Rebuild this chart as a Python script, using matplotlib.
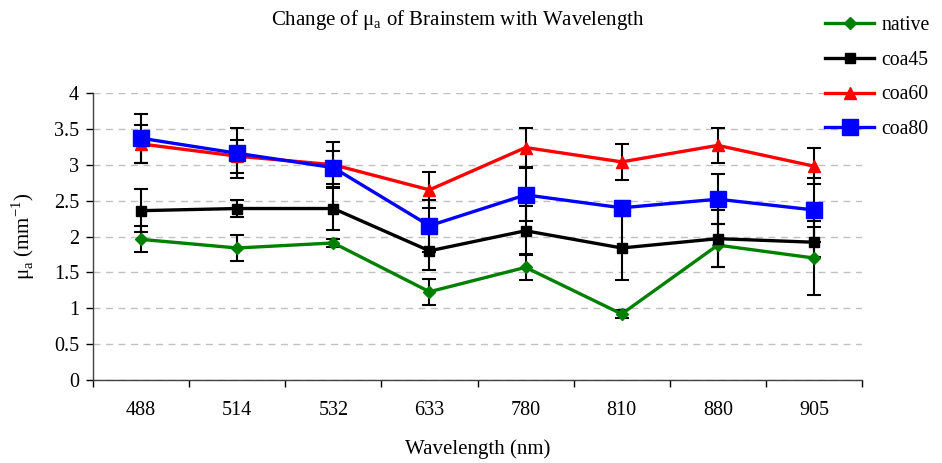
import matplotlib.pyplot as plt
import numpy as np
from matplotlib.ticker import FixedLocator

wavelengths = ["488", "514", "532", "633", "780", "810", "880", "905"]

native = [1.96, 1.84, 1.91, 1.23, 1.57, 0.92, 1.88, 1.70]
coa45 = [2.36, 2.39, 2.39, 1.80, 2.08, 1.84, 1.97, 1.92]
coa60 = [3.29, 3.12, 3.00, 2.65, 3.24, 3.04, 3.27, 2.98]
coa80 = [3.37, 3.16, 2.96, 2.15, 2.58, 2.40, 2.52, 2.37]

native_err = [0.18, 0.18, 0.05, 0.18, 0.18, 0.05, 0.30, 0.52]
coa45_err = [0.30, 0.12, 0.30, 0.26, 0.34, 0.45, 0.40, 0.21]
coa60_err = [0.27, 0.23, 0.32, 0.25, 0.27, 0.25, 0.24, 0.25]
coa80_err = [0.34, 0.35, 0.23, 0.36, 0.37, 0.10, 0.35, 0.45]

y_ticks = [0, 0.5, 1, 1.5, 2, 2.5, 3, 3.5, 4]

plt.rcParams["font.family"] = ["Liberation Serif", "DejaVu Serif"]
plt.rcParams["mathtext.fontset"] = "custom"
plt.rcParams["mathtext.rm"] = "Liberation Serif"

fig = plt.figure(figsize=(9.42, 4.63), dpi=100)
ax = fig.add_axes([93 / 942, 1 - 380 / 463, (862 - 93) / 942, (380 - 93) / 463])

x = np.arange(len(wavelengths))

series = [
    ("native", native, native_err, "#008000", "D", 6.5),
    ("coa45", coa45, coa45_err, "black", "s", 7.5),
    ("coa60", coa60, coa60_err, "#FF0000", "^", 9),
    ("coa80", coa80, coa80_err, "#0000FF", "s", 11.5),
]

# error bars first (all black), then the coloured lines on top
for name, vals, err, color, marker, ms in series:
    ax.errorbar(x, vals, yerr=err, fmt="none", ecolor="black",
                elinewidth=1.5, capsize=5, capthick=1.5, zorder=2)

for name, vals, err, color, marker, ms in series:
    ax.plot(x, vals, color=color, lw=2.4, marker=marker, ms=ms,
            markeredgecolor=color, label=name, zorder=3)

ax.set_xlim(-0.5, len(wavelengths) - 0.5)
ax.set_ylim(0, 4)
ax.set_yticks(y_ticks)
ax.set_yticklabels([f"{v:g}" for v in y_ticks])
ax.yaxis.grid(True, ls=(0, (5, 4)), color="#c0c0c0", lw=1)
ax.set_axisbelow(True)

ax.set_xticks(x)
ax.set_xticklabels(wavelengths)
ax.xaxis.set_minor_locator(FixedLocator(np.arange(-0.5, len(wavelengths), 1)))
ax.tick_params(axis="x", which="major", length=0, pad=15, labelsize=14.5)
ax.tick_params(axis="x", which="minor", length=5, width=1, direction="out")
ax.tick_params(axis="y", length=5, width=1, direction="out", labelsize=14.5, pad=5)

for side in ("top", "right"):
    ax.spines[side].set_visible(False)
for side in ("left", "bottom"):
    ax.spines[side].set_color("#404040")
    ax.spines[side].set_linewidth(1)

ax.set_xlabel("Wavelength (nm)", fontsize=15, labelpad=14)
ax.set_ylabel(r"μ$_\mathrm{a}$ (mm$^{-1}$)", fontsize=15, labelpad=12)

fig.text(458 / 942, 1 - 20 / 463, r"Change of μ$_\mathrm{a}$ of Brainstem with Wavelength",
         ha="center", va="center", fontsize=15)

fig.legend(loc="upper left", bbox_to_anchor=(817 / 942, 1 - 8 / 463),
           frameon=False, fontsize=14.2, handlelength=2.5, labelspacing=0.8,
           handletextpad=0.35, borderaxespad=0)

fig.savefig("out.png", dpi=100)
